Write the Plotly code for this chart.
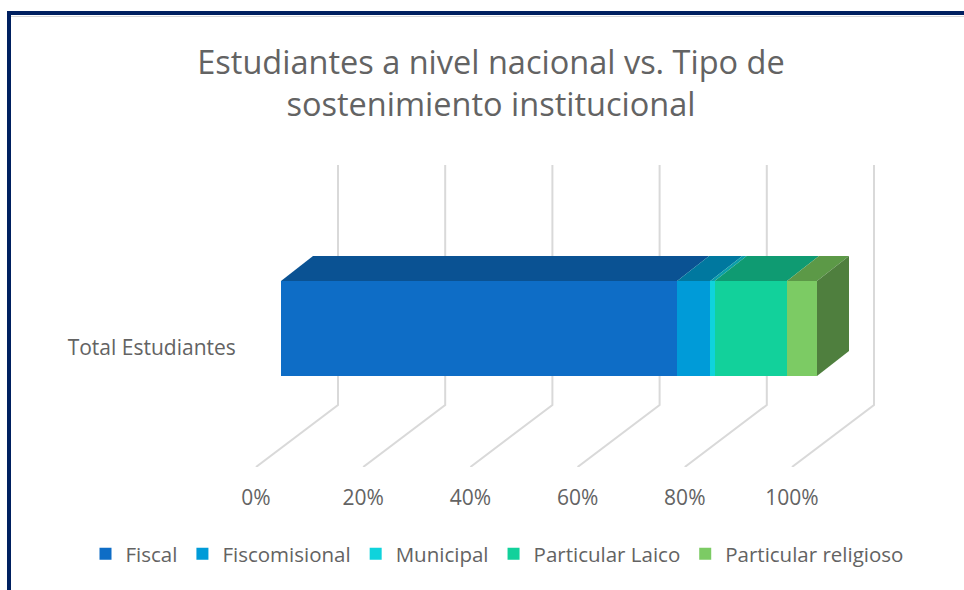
import plotly.graph_objects as go

# ---- data ----
categories = ["Total Estudiantes"]
series_names = ["Fiscal", "Fiscomisional", "Municipal", "Particular Laico", "Particular religioso"]
series_values = [73.9, 6.2, 0.8, 13.5, 5.6]
tick_values = [0, 20, 40, 60, 80, 100]
tick_labels = ["0%", "20%", "40%", "60%", "80%", "100%"]

# ---- styles ----
front_colors = ["#0E6DC6", "#009BD8", "#0FD3DC", "#12D19B", "#7CCB64"]
top_colors = ["#0A5293", "#00789F", "#0A9EAA", "#0F9B72", "#5C9947"]
side_color = "#4F7F3E"
grid_color = "#D9D9D9"
text_color = "#636363"
frame_color = "#002060"
FONT = "Open Sans"

W, H = 964, 590
ZERO_X, PT, PB = 256, 165, 467          # pixel position of 0%, plot top and bottom
UNITS_PER_PX = 100 / 536                # x scale: 100% spans 536 px
px_x = lambda p: p * UNITS_PER_PX
paper_x = lambda p: p / W
paper_y = lambda p: (PB - p) / (PB - PT)

# layout of the perspective (pixels)
BAR_SHIFT = 25          # front face of bar vs. tick position
BAR_BOTTOM = PB - 376
BAR_TOP = PB - 281
DEPTH_X, DEPTH_Y = 32, 25
FLOOR_X, FLOOR_Y = 82, 62
LABEL_Y = PB - 348

fig = go.Figure()

# front faces: real stacked bars on a second x axis shifted by the bar offset
for name, val, col in zip(series_names, series_values, front_colors):
    fig.add_trace(go.Bar(
        y=[(BAR_TOP + BAR_BOTTOM) / 2], x=[val], width=[BAR_TOP - BAR_BOTTOM],
        orientation="h", name=name, marker=dict(color=col, line=dict(width=0)),
        xaxis="x2", yaxis="y", hovertext=categories))

# top and side faces derived from the cumulative values
dx = px_x(DEPTH_X)
cum = 0
for name, val, col in zip(series_names, series_values, top_colors):
    a, b = cum, cum + val
    fig.add_trace(go.Scatter(
        x=[a, b, b + dx, a + dx, a],
        y=[BAR_TOP, BAR_TOP, BAR_TOP + DEPTH_Y, BAR_TOP + DEPTH_Y, BAR_TOP],
        mode="lines", fill="toself", fillcolor=col, line=dict(width=0),
        showlegend=False, hoverinfo="skip", xaxis="x2", yaxis="y"))
    cum = b
fig.add_trace(go.Scatter(
    x=[cum, cum + dx, cum + dx, cum, cum],
    y=[BAR_BOTTOM, BAR_BOTTOM + DEPTH_Y, BAR_TOP + DEPTH_Y, BAR_TOP, BAR_BOTTOM],
    mode="lines", fill="toself", fillcolor=side_color, line=dict(width=0),
    showlegend=False, hoverinfo="skip", xaxis="x2", yaxis="y"))

# gridlines: floor diagonal + back wall
shapes = []
for v in tick_values:
    shapes.append(dict(
        type="path", layer="below", xref="x", yref="y",
        path=f"M {v} 0 L {v + px_x(FLOOR_X)} {FLOOR_Y} L {v + px_x(FLOOR_X)} {PB - PT}",
        line=dict(color=grid_color, width=2)))

# outer frame (top and left only, as cropped in the picture)
shapes.append(dict(
    type="line", xref="paper", yref="paper", x0=paper_x(11), x1=paper_x(W),
    y0=paper_y(16.5), y1=paper_y(16.5), layer="below", line=dict(color="#D8D8D8", width=1)))
shapes.append(dict(
    type="path", xref="paper", yref="paper", layer="above",
    path=(f"M {paper_x(9)} {paper_y(H)} L {paper_x(9)} {paper_y(13)} "
          f"L {paper_x(W)} {paper_y(13)}"),
    line=dict(color=frame_color, width=4)))

xr = [-px_x(ZERO_X), px_x(W - ZERO_X)]
fig.update_layout(
    width=W, height=H, autosize=False,
    margin=dict(l=0, r=0, t=PT, b=H - PB, pad=0),
    paper_bgcolor="white", plot_bgcolor="rgba(0,0,0,0)",
    barmode="stack", shapes=shapes,
    font=dict(family=FONT, color=text_color, size=21),
    title=dict(
        text="Estudiantes a nivel nacional vs. Tipo de<br>sostenimiento institucional",
        font=dict(family=FONT, size=32.5, color=text_color),
        x=491 / W, xanchor="center", xref="container",
        y=1 - 74 / H, yanchor="top", yref="container"),
    xaxis=dict(
        range=xr, tickvals=tick_values, ticktext=tick_labels,
        showgrid=False, zeroline=False, showline=False,
        ticks="outside", ticklen=12, tickcolor="rgba(0,0,0,0)",
        tickfont=dict(size=21, color=text_color), fixedrange=True),
    xaxis2=dict(
        range=[xr[0] - px_x(BAR_SHIFT), xr[1] - px_x(BAR_SHIFT)], overlaying="x",
        visible=False, fixedrange=True),
    yaxis=dict(
        range=[0, PB - PT], tickvals=[LABEL_Y], ticktext=categories,
        anchor="free", position=paper_x(ZERO_X),
        showgrid=False, zeroline=False, showline=False,
        ticks="outside", ticklen=16, tickcolor="rgba(0,0,0,0)",
        tickfont=dict(size=21, color=text_color), fixedrange=True),
    legend=dict(
        orientation="h", x=paper_x(497), xanchor="center",
        y=paper_y(554), yanchor="middle", traceorder="normal",
        font=dict(size=20.5, color=text_color), bgcolor="rgba(0,0,0,0)",
        itemwidth=30),
)

fig.write_html("out.html", config=dict(displayModeBar=False),
               post_script="document.body.style.margin='0';")
